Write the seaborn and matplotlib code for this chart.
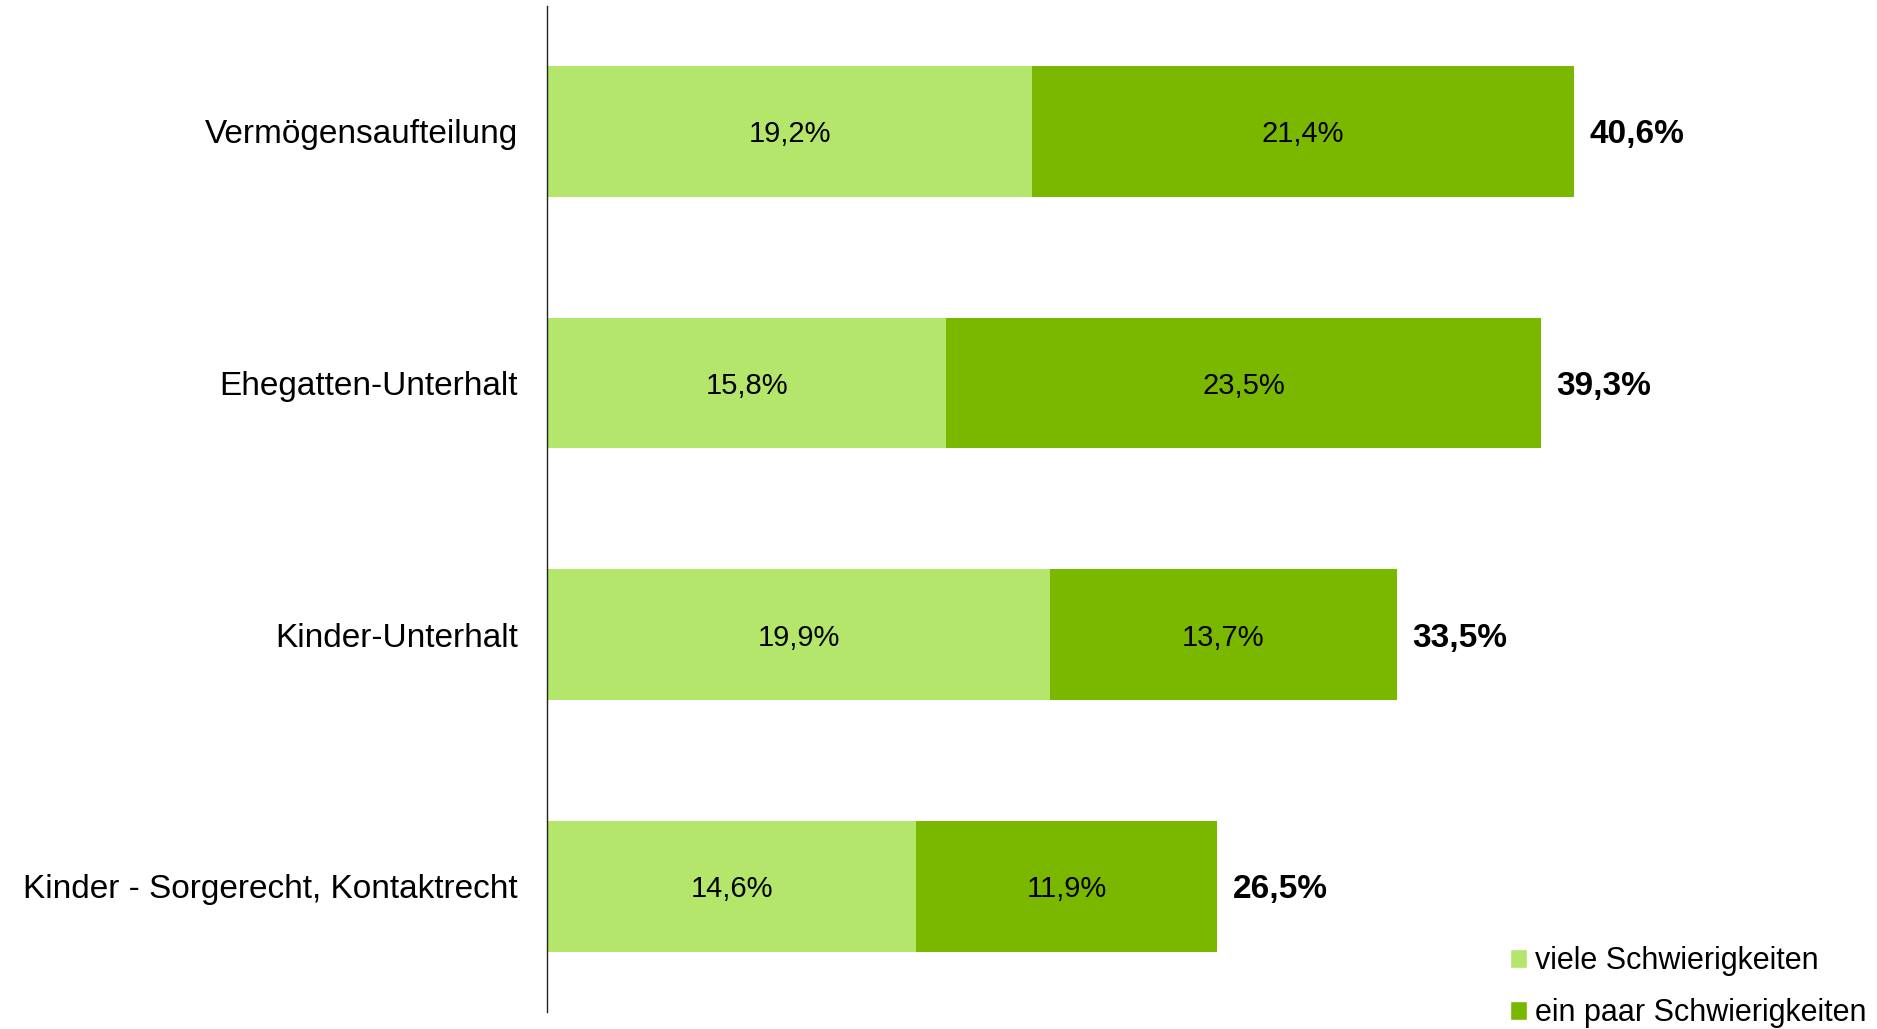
import pandas as pd
import seaborn as sns
import matplotlib.pyplot as plt
from matplotlib.patches import Patch

# data
categories = ['Vermögensaufteilung', 'Ehegatten-Unterhalt', 'Kinder-Unterhalt',
              'Kinder - Sorgerecht, Kontaktrecht']
viele = [19.2, 15.8, 19.9, 14.6]
ein_paar = [21.4, 23.5, 13.7, 11.9]
totals = [40.6, 39.3, 33.5, 26.5]

LIGHT = '#B3E66B'
DARK = '#7AB800'

df = pd.DataFrame({'kategorie': categories, 'viele': viele,
                   'ein_paar': ein_paar, 'gesamt': totals})
df['summe'] = df['viele'] + df['ein_paar']

def fmt(v):
    return f'{v:.1f}%'.replace('.', ',')

sns.set_style('white')
plt.rcParams['font.family'] = ['Liberation Sans', 'DejaVu Sans']
plt.rcParams['text.color'] = 'black'
plt.rcParams['ytick.color'] = 'black'

fig = plt.figure(figsize=(18.77, 10.29), dpi=100)
ax = fig.add_axes([0.2914, 0.0165, 0.7086, 0.978])

# stacked: the whole bar in dark green, light part drawn over it
sns.barplot(data=df, y='kategorie', x='summe', color=DARK, width=0.52,
            saturation=1, linewidth=0, ax=ax)
sns.barplot(data=df, y='kategorie', x='viele', color=LIGHT, width=0.52,
            saturation=1, linewidth=0, ax=ax)

for i, row in df.iterrows():
    ax.text(row['viele'] / 2, i, fmt(row['viele']), ha='center',
            va='center_baseline', fontsize=21)
    ax.text(row['viele'] + row['ein_paar'] / 2, i, fmt(row['ein_paar']),
            ha='center', va='center_baseline', fontsize=21)
    ax.text(row['summe'] + 0.63, i, fmt(row['gesamt']), ha='left',
            va='center_baseline', fontsize=24, fontweight='bold')

ax.set_xlim(0, 52.6)
ax.set_ylim(3.5, -0.5)
ax.set_xlabel('')
ax.set_ylabel('')
ax.set_xticks([])
ax.tick_params(axis='y', length=0, pad=21, labelsize=24)
for s in ['top', 'right', 'bottom']:
    ax.spines[s].set_visible(False)
ax.spines['left'].set_color('#222222')
ax.spines['left'].set_linewidth(1.0)

handles = [Patch(facecolor=LIGHT, label='viele Schwierigkeiten'),
           Patch(facecolor=DARK, label='ein paar Schwierigkeiten')]
fig.legend(handles=handles, loc='lower right', bbox_to_anchor=(1.004, -0.017),
           frameon=False, fontsize=22, handlelength=0.55, handleheight=0.55,
           handletextpad=0.25, labelspacing=0.72, borderaxespad=0.2)

fig.savefig('out.png', dpi=100)
